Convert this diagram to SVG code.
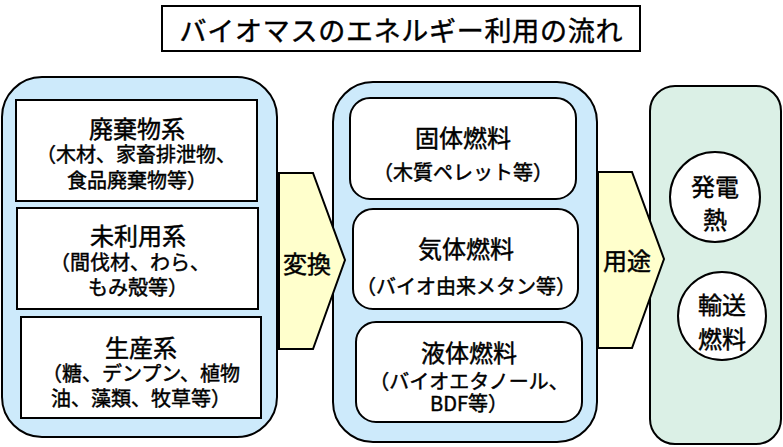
<svg xmlns="http://www.w3.org/2000/svg" width="783" height="447" viewBox="0 0 783 447">
  <style>
    text { font-family: "Noto Sans CJK JP", "Noto Sans", sans-serif; fill: #000; stroke: #000; stroke-width: 0.45px; text-anchor: middle; dominant-baseline: central; }
    .title { font-size: 27px; }
    .head { font-size: 24px; }
    .body { font-size: 20px; }
    .panel { stroke: #000; stroke-width: 2; }
    .blue { fill: #CDEAFB; }
    .green { fill: #DBF0E6; }
    .box { fill: #fff; stroke: #000; stroke-width: 2; }
    .arrow { fill: #FFFFCC; stroke: #000; stroke-width: 2; stroke-linejoin: miter; }
  </style>
  <rect width="783" height="447" fill="#fff"/>

  <g id="title">
    <rect x="162" y="6" width="478" height="45" fill="#fff" stroke="#000" stroke-width="2"/>
    <text class="title" x="401" y="29" textLength="443" lengthAdjust="spacing">バイオマスのエネルギー利用の流れ</text>
  </g>

  <g id="sources">
    <rect class="panel blue" x="2" y="77" width="275" height="360" rx="40" ry="40"/>
    <g id="waste">
      <rect class="box" x="16" y="100" width="241" height="101"/>
      <text class="head" x="137" y="127">廃棄物系</text>
      <text class="body" x="136" y="153">（木材、家畜排泄物、</text>
      <text class="body" x="137" y="179">食品廃棄物等）</text>
    </g>
    <g id="unused">
      <rect class="box" x="17" y="208" width="241" height="101"/>
      <text class="head" x="138" y="234">未利用系</text>
      <text class="body" x="130" y="261">（間伐材、わら、</text>
      <text class="body" x="138" y="286">もみ殻等）</text>
    </g>
    <g id="produced">
      <rect class="box" x="21" y="317" width="240" height="101"/>
      <text class="head" x="141" y="346">生産系</text>
      <text class="body" x="141" y="372">（糖、デンプン、植物</text>
      <text class="body" x="141" y="397">油、藻類、牧草等）</text>
    </g>
  </g>

  <g id="fuels">
    <rect class="panel blue" x="333" y="82" width="264" height="360" rx="40" ry="40"/>
    <g id="solid">
      <rect class="box" x="350" y="98" width="226" height="101" rx="20" ry="20"/>
      <text class="head" x="463" y="136">固体燃料</text>
      <text class="body" x="463" y="171">（木質ペレット等）</text>
    </g>
    <g id="gas">
      <rect class="box" x="353" y="209" width="225" height="100" rx="20" ry="20"/>
      <text class="head" x="466" y="247">気体燃料</text>
      <text class="body" x="466" y="285">（バイオ由来メタン等）</text>
    </g>
    <g id="liquid">
      <rect class="box" x="356" y="322" width="226" height="100" rx="20" ry="20"/>
      <text class="head" x="469" y="351">液体燃料</text>
      <text class="body" x="469" y="380">（バイオエタノール、</text>
      <text class="body" x="469" y="402">BDF等）</text>
    </g>
  </g>

  <g id="uses">
    <rect class="panel green" x="650" y="86" width="131" height="358" rx="25" ry="25"/>
    <g id="power-heat">
      <circle class="box" cx="715" cy="197" r="45"/>
      <text class="head" x="715" y="185">発電</text>
      <text class="head" x="715" y="218">熱</text>
    </g>
    <g id="transport-fuel">
      <circle class="box" cx="722" cy="316" r="44"/>
      <text class="head" x="722" y="303">輸送</text>
      <text class="head" x="722" y="337">燃料</text>
    </g>
  </g>

  <g id="connectors">
    <g id="convert">
      <polygon class="arrow" points="279,173 313,173 345,260 313,349 279,349"/>
      <text class="head" x="307" y="262">変換</text>
    </g>
    <g id="use">
      <polygon class="arrow" points="598,172 632,172 664,259 632,348 598,348"/>
      <text class="head" x="627" y="259">用途</text>
    </g>
  </g>
</svg>
